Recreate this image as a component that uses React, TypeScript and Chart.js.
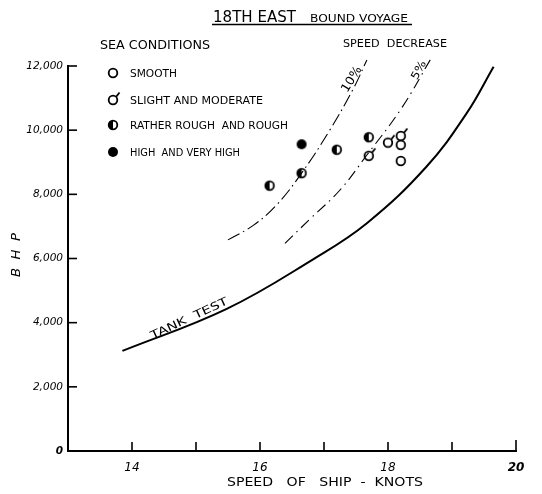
import React, { useEffect, useRef } from 'react';
import { Chart, registerables } from 'chart.js';

Chart.register(...registerables);

// ---- Data (speed in knots, BHP) ----
const smoothSpeed = [18.2, 18.2];
const smoothBhp = [9540, 9040];
const slightSpeed = [17.7, 18.0, 18.2];
const slightBhp = [9200, 9610, 9820];
const roughSpeed = [16.15, 16.65, 17.2, 17.7];
const roughBhp = [8270, 8660, 9390, 9780];
const highSpeed = [16.65];
const highBhp = [9560];

const tankSpeed = [13.85, 15.48, 16.83, 17.67, 18.6, 19.23, 19.65];
const tankBhp = [3120, 4430, 5975, 7100, 8860, 10530, 11980];
const dec10Speed = [15.5, 15.9, 16.26, 16.65, 17.09, 17.46, 17.67];
const dec10Bhp = [6580, 7040, 7670, 8660, 10000, 11300, 12190];
const dec5Speed = [16.39, 16.78, 17.25, 17.67, 18.21, 18.66];
const dec5Bhp = [6470, 7230, 8135, 9225, 10680, 12190];

const xTickValues = [14, 15, 16, 17, 18, 19, 20];
const xLabelled = [14, 16, 18, 20];
const yTickValues = [2000, 4000, 6000, 8000, 10000, 12000];

const titleMain = '18TH EAST';
const titleSub = 'BOUND VOYAGE';
const legendTitle = 'SEA CONDITIONS';
const decreaseTitle = 'SPEED  DECREASE';
const legendLabels = ['SMOOTH', 'SLIGHT AND MODERATE', 'RATHER ROUGH  AND ROUGH', 'HIGH  AND VERY HIGH'];
const xTitle = 'SPEED   OF   SHIP  -  KNOTS';
const yTitle = 'B  H  P';
const tankLabel = 'TANK  TEST';
const label10 = '10%';
const label5 = '5%';

const pts = (xs: number[], ys: number[]) => xs.map((x, i) => ({ x, y: ys[i] }));

type Kind = 'smooth' | 'slight' | 'rough' | 'high';

function drawMarker(g: CanvasRenderingContext2D, kind: Kind, cx: number, cy: number) {
  const r = 4.3;
  g.save();
  g.lineWidth = 1.8;
  g.strokeStyle = '#000';
  g.fillStyle = '#000';
  if (kind === 'high') {
    g.beginPath();
    g.arc(cx, cy, 5, 0, Math.PI * 2);
    g.fill();
  } else {
    g.beginPath();
    g.arc(cx, cy, r, 0, Math.PI * 2);
    g.fillStyle = '#fff';
    g.fill();
    if (kind === 'rough') {
      g.beginPath();
      g.arc(cx, cy, r, Math.PI / 2, (3 * Math.PI) / 2);
      g.closePath();
      g.fillStyle = '#000';
      g.fill();
    }
    g.beginPath();
    g.arc(cx, cy, r, 0, Math.PI * 2);
    g.stroke();
    if (kind === 'slight') {
      g.beginPath();
      g.moveTo(cx + r * 0.7, cy - r * 0.7);
      g.lineTo(cx + r * 0.7 + 3.5, cy - r * 0.7 - 4.5);
      g.stroke();
    }
  }
  g.restore();
}

function makeMarker(kind: Kind): HTMLCanvasElement {
  const c = document.createElement('canvas');
  c.width = 26;
  c.height = 26;
  const g = c.getContext('2d')!;
  drawMarker(g, kind, 13, 13);
  return c;
}

function fitText(ctx: CanvasRenderingContext2D, text: string, x: number, y: number, width: number, font: string) {
  ctx.save();
  ctx.font = font;
  ctx.textAlign = 'left';
  ctx.textBaseline = 'alphabetic';
  const w = ctx.measureText(text).width;
  ctx.translate(x, y);
  ctx.scale(width / w, 1);
  ctx.fillText(text, 0, 0);
  ctx.restore();
}

const FONT = '"DejaVu Sans", sans-serif';

const decorPlugin = {
  id: 'decor',
  afterDraw(chart: any) {
    const ctx: CanvasRenderingContext2D = chart.ctx;
    const xs = chart.scales.x;
    const ys = chart.scales.y;
    const area = chart.chartArea;
    ctx.save();
    ctx.fillStyle = '#000';
    ctx.strokeStyle = '#000';

    // inward ticks
    ctx.lineWidth = 1.6;
    xTickValues.forEach((v) => {
      const px = xs.getPixelForValue(v);
      ctx.beginPath();
      ctx.moveTo(px, area.bottom);
      ctx.lineTo(px, area.bottom - (v === 20 ? 11 : 9));
      ctx.stroke();
    });
    yTickValues.forEach((v) => {
      const py = ys.getPixelForValue(v);
      ctx.beginPath();
      ctx.moveTo(area.left, py);
      ctx.lineTo(area.left + 9, py);
      ctx.stroke();
    });

    // title
    fitText(ctx, titleMain, 213, 21.5, 83, `15px ${FONT}`);
    fitText(ctx, titleSub, 310, 21.5, 98, `10.5px ${FONT}`);
    ctx.lineWidth = 1.5;
    ctx.beginPath();
    ctx.moveTo(212, 24.5);
    ctx.lineTo(412, 24.5);
    ctx.stroke();

    fitText(ctx, legendTitle, 100, 49, 110, `12.5px ${FONT}`);
    fitText(ctx, decreaseTitle, 343, 47, 104, `11px ${FONT}`);

    // legend
    const rows = [
      { kind: 'smooth' as Kind, y: 73, w: 47 },
      { kind: 'slight' as Kind, y: 100, w: 133 },
      { kind: 'rough' as Kind, y: 125, w: 158 },
      { kind: 'high' as Kind, y: 152, w: 110 },
    ];
    rows.forEach((r, i) => {
      drawMarker(ctx, r.kind, 113, r.y);
      fitText(ctx, legendLabels[i], 130, r.y + 4, r.w, `10.5px ${FONT}`);
    });

    // axis titles
    fitText(ctx, xTitle, 227, 486, 196, `12.5px ${FONT}`);
    ctx.save();
    ctx.translate(20, 277);
    ctx.rotate(-Math.PI / 2);
    fitText(ctx, yTitle, 0, 0, 44, `italic 13px ${FONT}`);
    ctx.restore();

    // curve labels (anchored in data units)
    const lab = (text: string, sx: number, by: number, deg: number, w: number, size: number) => {
      const px = xs.getPixelForValue(sx);
      const py = ys.getPixelForValue(by);
      ctx.save();
      ctx.translate(px, py);
      ctx.rotate((deg * Math.PI) / 180);
      fitText(ctx, text, -w / 2, size * 0.36, w, `${size}px ${FONT}`);
      ctx.restore();
    };
    lab(tankLabel, 14.89, 4150, -25, 84, 11);
    lab(label10, 17.42, 11600, -59, 28, 12);
    lab(label5, 18.47, 11880, -62, 20, 11);

    ctx.restore();
  },
};

export default function App() {
  const ref = useRef<HTMLCanvasElement>(null);
  useEffect(() => {
    document.body.style.margin = '0';
    const canvas = ref.current!;
    const lineBase = {
      showLine: true,
      pointRadius: 0,
      borderColor: '#000',
      backgroundColor: '#000',
      tension: 0.4,
      clip: false as any,
      fill: false,
    };
    const chart = new Chart(canvas, {
      type: 'scatter',
      data: {
        datasets: [
          { ...lineBase, label: 'TANK TEST', data: pts(tankSpeed, tankBhp), borderWidth: 2 },
          { ...lineBase, label: '10%', data: pts(dec10Speed, dec10Bhp), borderWidth: 1.1, borderDash: [13, 4, 1.5, 4] },
          { ...lineBase, label: '5%', data: pts(dec5Speed, dec5Bhp), borderWidth: 1.1, borderDash: [11, 5, 1.5, 5] },
          { label: 'SMOOTH', data: pts(smoothSpeed, smoothBhp), pointStyle: makeMarker('smooth'), pointRadius: 5 },
          { label: 'SLIGHT AND MODERATE', data: pts(slightSpeed, slightBhp), pointStyle: makeMarker('slight'), pointRadius: 5 },
          { label: 'RATHER ROUGH AND ROUGH', data: pts(roughSpeed, roughBhp), pointStyle: makeMarker('rough'), pointRadius: 5 },
          { label: 'HIGH AND VERY HIGH', data: pts(highSpeed, highBhp), pointStyle: makeMarker('high'), pointRadius: 5 },
        ] as any,
      },
      options: {
        responsive: false,
        animation: false,
        devicePixelRatio: 1,
        events: [],
        layout: { padding: { top: 66, right: 26, left: 0, bottom: 0 } },
        plugins: { legend: { display: false }, tooltip: { enabled: false }, title: { display: false } },
        scales: {
          x: {
            type: 'linear',
            min: 13,
            max: 20,
            afterFit: (s: any) => {
              s.height = 43;
            },
            grid: { display: false, drawTicks: false },
            border: { display: true, color: '#000', width: 2 },
            ticks: {
              stepSize: 1,
              autoSkip: false,
              maxRotation: 0,
              padding: 10,
              color: '#000',
              callback: (v: any) => (xLabelled.includes(Number(v)) ? String(v) : ''),
              font: (c: any) => ({
                family: FONT,
                size: 12,
                style: 'italic',
                weight: c.tick && c.tick.value === 20 ? 'bold' : 'normal',
              }),
            },
          },
          y: {
            type: 'linear',
            min: 0,
            max: 12000,
            afterFit: (s: any) => {
              s.width = 68;
            },
            grid: { display: false, drawTicks: false },
            border: { display: true, color: '#000', width: 2 },
            ticks: {
              stepSize: 2000,
              padding: 5,
              color: '#000',
              callback: (v: any) => Number(v).toLocaleString('en-US'),
              font: (c: any) => ({
                family: FONT,
                size: 10.5,
                style: 'italic',
                weight: c.tick && c.tick.value === 0 ? 'bold' : 'normal',
              }),
            },
          },
        },
      } as any,
      plugins: [decorPlugin],
    });
    return () => chart.destroy();
  }, []);
  return (
    <div style={{ position: 'absolute', left: 0, top: 0, width: 542, height: 494, background: '#fff' }}>
      <canvas ref={ref} width={542} height={494} />
    </div>
  );
}
